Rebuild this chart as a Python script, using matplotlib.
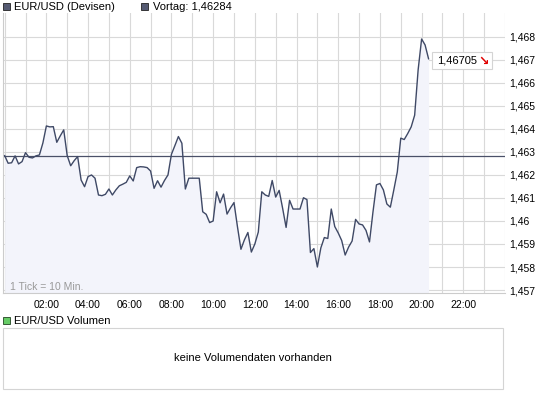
import matplotlib
matplotlib.use("Agg")
import matplotlib.pyplot as plt
from matplotlib.patches import Rectangle

# EUR/USD Intraday, 1 Tick = 10 Min. (00:00 bis 20:20)
minutes = list(range(0, 1230, 10))
kurs = [
    1.46284, 1.46251, 1.46253, 1.46283, 1.46248, 1.46258, 1.46297, 1.46277, 1.46274, 1.46283,
    1.46287, 1.46339, 1.46413, 1.46409, 1.46410, 1.46342, 1.46370, 1.46396, 1.46284, 1.46240,
    1.46262, 1.46280, 1.46178, 1.46149, 1.46193, 1.46200, 1.46186, 1.46113, 1.46110, 1.46116,
    1.46139, 1.46113, 1.46135, 1.46153, 1.46160, 1.46168, 1.46196, 1.46174, 1.46232, 1.46236,
    1.46235, 1.46232, 1.46217, 1.46142, 1.46175, 1.46147, 1.46176, 1.46200, 1.46290, 1.46328,
    1.46367, 1.46338, 1.46139, 1.46186, 1.46186, 1.46186, 1.46186, 1.46040, 1.46029, 1.45993,
    1.46000, 1.46127, 1.46079, 1.46117, 1.46030, 1.46057, 1.46080, 1.45975, 1.45877, 1.45918,
    1.45950, 1.45865, 1.45900, 1.45952, 1.46127, 1.46113, 1.46107, 1.46176, 1.46104, 1.46133,
    1.46055, 1.45972, 1.46090, 1.46052, 1.46052, 1.46052, 1.46101, 1.46093, 1.45863, 1.45880,
    1.45800, 1.45883, 1.45928, 1.45924, 1.46052, 1.45976, 1.45948, 1.45915, 1.45852, 1.45887,
    1.45913, 1.46007, 1.45987, 1.45983, 1.45959, 1.45909, 1.46039, 1.46157, 1.46163, 1.46135,
    1.46074, 1.46060, 1.46135, 1.46213, 1.46360, 1.46354, 1.46380, 1.46409, 1.46460, 1.46657,
    1.46791, 1.46765, 1.46705,
]
vortag = 1.46284
letzter = "1,46705"
y_ticks = [1.457, 1.458, 1.459, 1.46, 1.461, 1.462, 1.463, 1.464, 1.465, 1.466, 1.467, 1.468]
y_labels = ["1,457", "1,458", "1,459", "1,46", "1,461", "1,462", "1,463", "1,464", "1,465",
            "1,466", "1,467", "1,468"]
x_labels = ["02:00", "04:00", "06:00", "08:00", "10:00", "12:00", "14:00", "16:00", "18:00",
            "20:00", "22:00"]

plt.rcParams['font.family'] = ['Liberation Sans', 'DejaVu Sans']

W, H = 545, 395
fig = plt.figure(figsize=(W / 100, H / 100), dpi=100)


def fx(x):
    return x / W


def fy(y):
    return 1 - y / H


# Hauptchart
ax = fig.add_axes([fx(3), fy(293), fx(505) - fx(3), fy(13) - fy(293)])
stunden = [m / 60 for m in minutes]
ymin, ymax = 1.45687, 1.46904
ax.fill_between(stunden, kurs, ymin, color='#f3f4fb', lw=0, zorder=1)
ax.plot(stunden, kurs, color='#3f4966', lw=1.0, zorder=3)
ax.axhline(vortag, color='#4a5068', lw=0.9, zorder=2)

ax.set_xlim(-0.08, 24)
ax.set_ylim(ymin, ymax)
ax.set_xticks(list(range(2, 24, 2)))
ax.set_xticklabels(x_labels)
ax.set_xticks(list(range(0, 25)), minor=True)
ax.set_yticks(y_ticks)
ax.set_yticklabels(y_labels)
ax.yaxis.tick_right()
ax.grid(True, which='both', color='#d9d9d9', lw=0.8, zorder=0)
ax.set_axisbelow(True)
ax.tick_params(axis='both', which='both', length=0, labelsize=7.5, colors='black')
ax.tick_params(axis='x', pad=5)
ax.tick_params(axis='y', pad=3)
for s in ['top', 'right']:
    ax.spines[s].set_visible(False)
for s in ['left', 'bottom']:
    ax.spines[s].set_color('#cccccc')
    ax.spines[s].set_linewidth(0.8)

fig.text(fx(10), fy(287), "1 Tick = 10 Min.", color='#999999', fontsize=7.5, va='center')

# Kopfzeile
fig.patches.append(Rectangle((fx(3), fy(10)), fx(7), 7 / H, transform=fig.transFigure,
                             facecolor='#555a72', edgecolor='#222222', lw=0.6))
fig.text(fx(14), fy(7), "EUR/USD (Devisen)", fontsize=8, va='center')
fig.patches.append(Rectangle((fx(141), fy(10)), fx(7), 7 / H, transform=fig.transFigure,
                             facecolor='#555a72', edgecolor='#222222', lw=0.6))
fig.text(fx(153), fy(7), "Vortag: 1,46284", fontsize=8, va='center')

# letzter Kurs
fig.patches.append(Rectangle((fx(432), fy(69)), fx(60), 17 / H, transform=fig.transFigure,
                             facecolor='white', edgecolor='#d4d4d4', lw=0.8, zorder=5))
fig.text(fx(437), fy(60.5), letzter, fontsize=8, va='center', zorder=6)
fig.text(fx(484), fy(61), "\u2198", family=['DejaVu Sans'], fontsize=9, fontweight='bold',
         color='#e00000', ha='center', va='center', zorder=6)

# Volumen
fig.patches.append(Rectangle((fx(3), fy(324)), fx(7), 7 / H, transform=fig.transFigure,
                             facecolor='#66cc66', edgecolor='#224422', lw=0.6))
fig.text(fx(14), fy(320.5), "EUR/USD Volumen", fontsize=8, va='center')
fig.patches.append(Rectangle((fx(3), fy(389)), fx(500), 61 / H, transform=fig.transFigure,
                             facecolor='white', edgecolor='#d4d4d4', lw=0.8))
fig.text(fx(253), fy(358), "keine Volumendaten vorhanden", fontsize=8, ha='center', va='center')

fig.savefig("out.png", dpi=100)
